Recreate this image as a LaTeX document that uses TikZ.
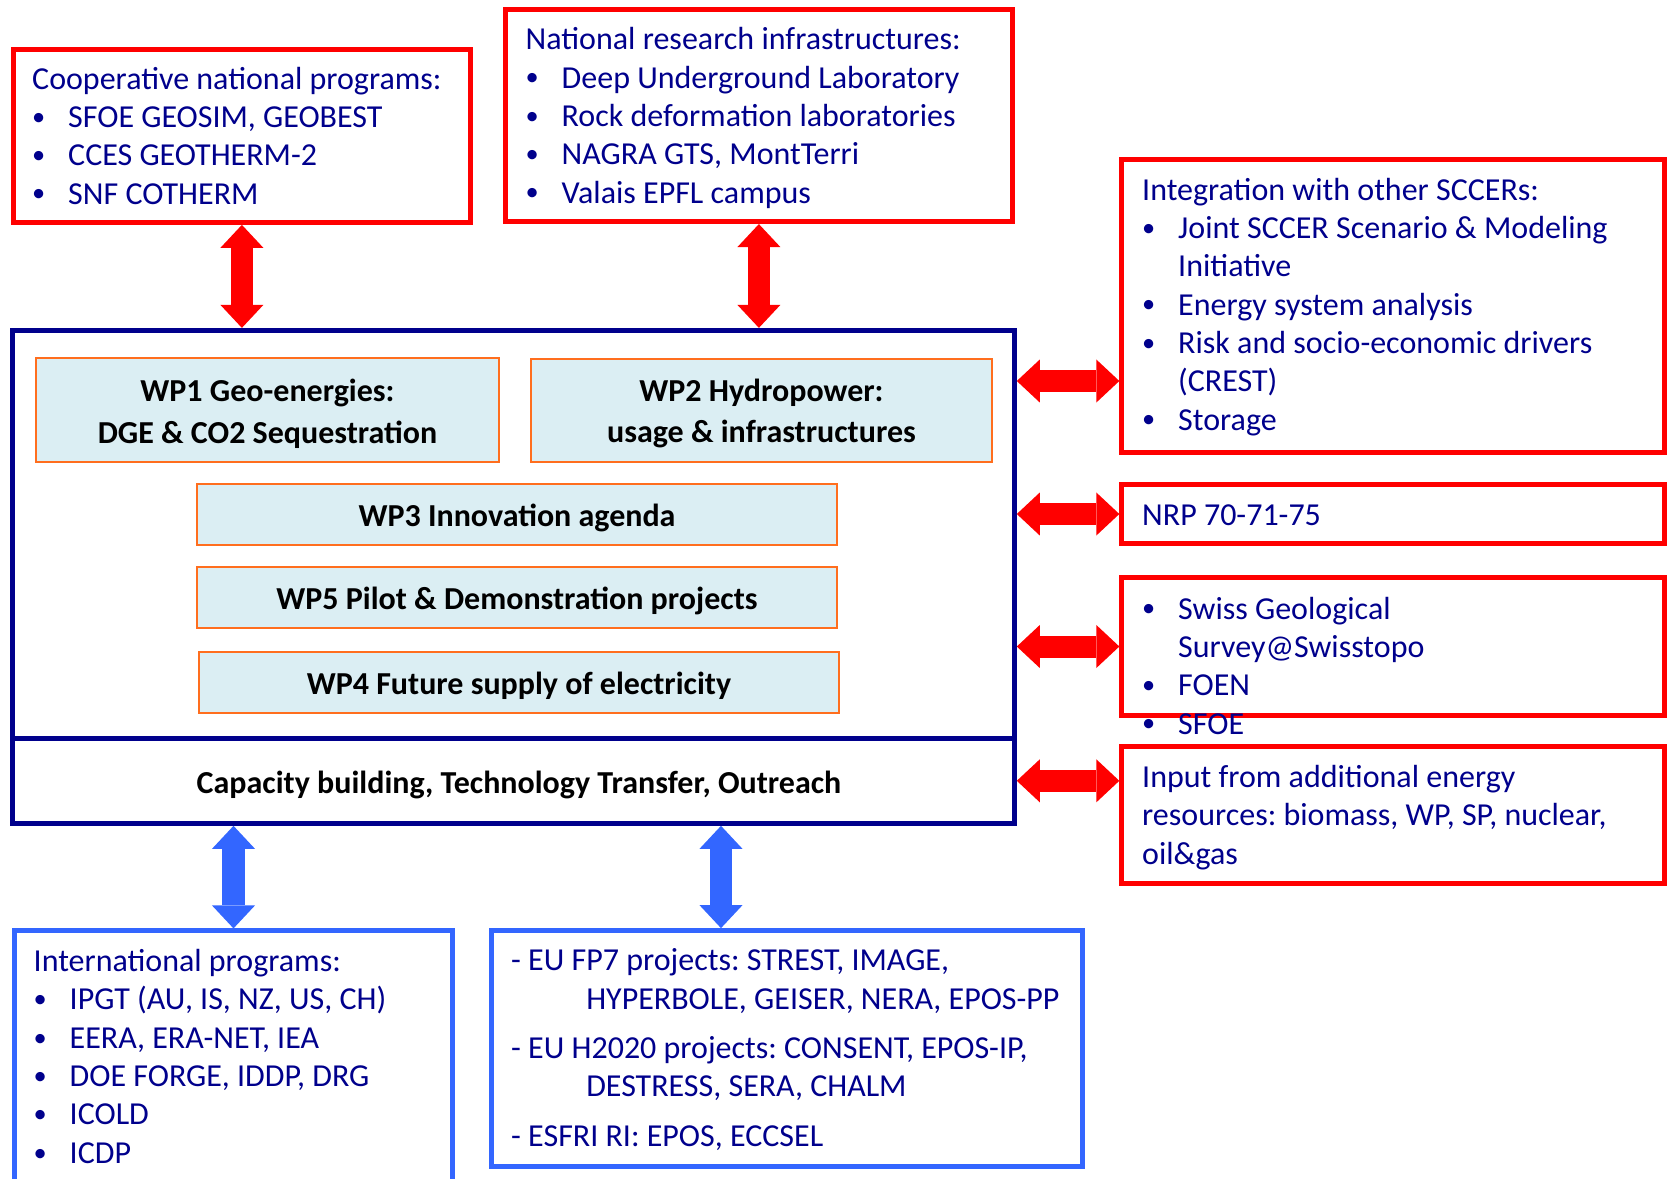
\documentclass[tikz,border=0pt]{standalone}
\usepackage{fontspec}
\setmainfont{Carlito}
\usetikzlibrary{arrows.meta,positioning}
\frenchspacing

\definecolor{navy}{RGB}{0,0,140}
\definecolor{boxred}{RGB}{255,0,0}
\definecolor{boxblue}{RGB}{51,102,255}
\definecolor{wporange}{RGB}{255,110,30}
\definecolor{wpfill}{RGB}{219,238,243}

\newcommand{\bul}{\makebox[0.36cm][l]{\raisebox{0.6pt}{\fontsize{7.5}{7.5}\selectfont\textbullet}}}
\newcommand{\indt}{\hspace*{0.36cm}}
\newcommand{\wpstrut}{\rule{0pt}{0.29cm}}

\tikzset{
  txt/.style={anchor=north west,inner sep=0pt,align=left,text=navy,font=\fontsize{9.1}{10.9}\selectfont},
  redbox/.style={draw=boxred,line width=0.05cm,inner sep=0pt},
  bluebox/.style={draw=boxblue,line width=0.05cm,inner sep=0pt},
  navybox/.style={draw=navy,line width=0.05cm,inner sep=0pt},
  wp/.style={draw=wporange,fill=wpfill,line width=0.02cm,align=center,font=\fontsize{9.1}{11.85}\selectfont\bfseries},
  bigtip/.tip={Triangle[width=0.43cm,length=0.23cm,line width=0pt]},
  redarr/.style={draw=boxred,line width=0.22cm,bigtip-bigtip},
  bluearr/.style={redarr,draw=boxblue}
}

\begin{document}
\begin{tikzpicture}[x=0.01cm,y=-0.01cm]
  \useasboundingbox (0,0) rectangle (1669,1178);
  \clip (0,0) rectangle (1669,1178);

  % outer boxes
  \node[redbox,minimum width=4.57cm,minimum height=1.73cm] (coop) at (241.9,135.8) {};
  \node[redbox,minimum width=5.06cm,minimum height=2.12cm] (natl) at (758.9,115.5) {};
  \node[redbox,minimum width=5.42cm,minimum height=2.92cm] (integ) at (1393,306) {};
  \node[redbox,minimum width=5.42cm,minimum height=0.58cm] (nrp) at (1393,514) {};
  \node[redbox,minimum width=5.42cm,minimum height=1.37cm] (swiss) at (1393,646.5) {};
  \node[redbox,minimum width=5.42cm,minimum height=1.366cm] (input) at (1393,815) {};
  \node[bluebox,minimum width=4.38cm,minimum height=2.8cm] (intl) at (233.5,1071) {};
  \node[bluebox,minimum width=5.9cm,minimum height=2.36cm] (eu) at (787,1048.7) {};

  % the centre block
  \node[navybox,minimum width=10.015cm,minimum height=4.078cm] (core) at (513.25,534.4) {};
  \node[navybox,minimum width=10.015cm,minimum height=0.85cm] (cap) at (513.25,780.8) {};
  \node[anchor=base,inner sep=0pt,font=\fontsize{9.1}{10.9}\selectfont\bfseries] (captxt) at (519,793.3)
    {Capacity building, Technology Transfer, Outreach};

  \node[wp,minimum width=4.63cm,minimum height=1.037cm] (wp1) at (267.5,410.2) {\wpstrut WP1 Geo-energies:\\DGE \& CO2 Sequestration};
  \node[wp,minimum width=4.61cm,minimum height=1.033cm] (wp2) at (761.5,410.3) {\wpstrut WP2 Hydropower:\\usage \& infrastructures};
  \node[wp,minimum width=6.4cm,minimum height=0.61cm] (wp3) at (517,514.5) {\wpstrut WP3 Innovation agenda};
  \node[wp,minimum width=6.4cm,minimum height=0.61cm] (wp5) at (517,597.5) {\wpstrut WP5 Pilot \& Demonstration projects};
  \node[wp,minimum width=6.4cm,minimum height=0.61cm] (wp4) at (519,682.8) {\wpstrut WP4 Future supply of electricity};

  % box texts
  \node[txt] (cooptxt) at (31.5,61.5) {\strut Cooperative national programs:\\
    \bul SFOE GEOSIM, GEOBEST\\\bul CCES GEOTHERM-2\\\bul SNF COTHERM};
  \node[txt] (natltxt) at (525,22.2) {\strut National research infrastructures:\\
    \bul Deep Underground Laboratory\\\bul Rock deformation laboratories\\
    \bul NAGRA GTS, MontTerri\\\bul Valais EPFL campus};
  \node[txt] (integtxt) at (1141.5,172.5) {\strut Integration with other SCCERs:\\
    \bul Joint SCCER Scenario \& Modeling\\\indt Initiative\\
    \bul Energy system analysis\\\bul Risk and socio-economic drivers\\
    \indt (CREST)\\\bul Storage};
  \node[txt] (nrptxt) at (1141.5,498.2) {\strut NRP 70-71-75};
  \node[txt] (swisstxt) at (1141.5,591.5) {\strut\bul Swiss Geological\\\indt Survey@Swisstopo\\
    \bul FOEN\\\bul SFOE};
  \node[txt] (inputtxt) at (1141.5,760) {\strut Input from additional energy\\
    resources: biomass, WP, SP, nuclear,\\oil\&gas};
  \node[txt] (intltxt) at (33,944) {\strut International programs:\\
    \bul IPGT (AU, IS, NZ, US, CH)\\\bul EERA, ERA-NET, IEA\\
    \bul DOE FORGE, IDDP, DRG\\\bul ICOLD\\\bul ICDP};
  \node[txt] (eutxt) at (510.5,943.2) {\strut - EU FP7 projects: STREST, IMAGE,\\
    \hspace*{0.75cm}HYPERBOLE, GEISER, NERA, EPOS-PP\\[0.11cm]
    - EU H2020 projects: CONSENT, EPOS-IP,\\
    \hspace*{0.75cm}DESTRESS, SERA, CHALM\\[0.11cm]
    - ESFRI RI: EPOS, ECCSEL};

  % links
  \coordinate (integarr) at (1068,381);
  \coordinate (euarr) at (721,880);
  \draw[redarr] (coop.south) -- (coop.south |- core.north);
  \draw[redarr] (natl.south) -- (natl.south |- core.north);
  \draw[redarr] (core.east |- integarr) -- (integ.west |- integarr);
  \draw[redarr] (core.east |- nrp.west) -- (nrp.west);
  \draw[redarr] (core.east |- swiss.west) -- (swiss.west);
  \draw[redarr] (cap.east) -- (cap.east -| input.west);
  \draw[bluearr] (cap.south -| intl.north) -- (intl.north);
  \draw[bluearr] (cap.south -| euarr) -- (eu.north -| euarr);
\end{tikzpicture}
\end{document}
